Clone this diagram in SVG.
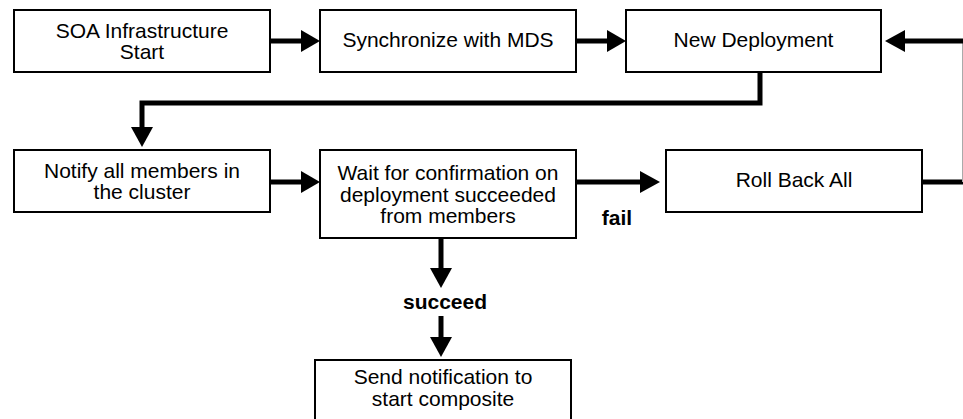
<svg xmlns="http://www.w3.org/2000/svg" width="963" height="419" viewBox="0 0 963 419">
<style>
.box{fill:#fff;stroke:#000;stroke-width:2}
.t{font-family:"Liberation Sans",Arial,sans-serif;font-size:21px;fill:#000;text-anchor:middle}
.lbl{font-family:"Liberation Sans",Arial,sans-serif;font-size:21px;font-weight:bold;fill:#000;text-anchor:middle}
.ln{fill:none;stroke:#000;stroke-width:5}
.hd{fill:#000;stroke:none}
</style>
<rect width="963" height="419" fill="#fff"/>
<g id="connectors">
<line class="ln" x1="270" y1="41" x2="303" y2="41"/>
<polygon class="hd" points="301,30 320,41 301,52"/>
<line class="ln" x1="576" y1="41" x2="609" y2="41"/>
<polygon class="hd" points="607,30 626,41 607,52"/>
<path class="ln" d="M760,72 V103 H142 V129"/>
<polygon class="hd" points="131,127 153,127 142,147"/>
<line class="ln" x1="270" y1="182" x2="303" y2="182"/>
<polygon class="hd" points="301,171 320,182 301,193"/>
<line class="ln" x1="576" y1="182" x2="642" y2="182"/>
<polygon class="hd" points="640,171 660,182 640,193"/>
<line class="ln" x1="922" y1="182" x2="963" y2="182"/>
<line x1="962.5" y1="40" x2="962.5" y2="182" stroke="#aaa" stroke-width="1"/>
<line class="ln" x1="963" y1="41" x2="903" y2="41"/>
<polygon class="hd" points="905,30 885,41 905,52"/>
<line class="ln" x1="441" y1="238" x2="441" y2="270"/>
<polygon class="hd" points="430,268 452,268 441,288"/>
<line class="ln" x1="441" y1="316" x2="441" y2="339"/>
<polygon class="hd" points="430,337 452,337 441,357"/>
<text class="lbl" x="617" y="225">fail</text>
<text class="lbl" x="445" y="309">succeed</text>
</g>
<g id="soa-start">
<rect class="box" x="14" y="10" width="256" height="62"/>
<text class="t" x="142" y="37.5">SOA Infrastructure</text>
<text class="t" x="142" y="58.5">Start</text>
</g>
<g id="sync-mds">
<rect class="box" x="320" y="10" width="256" height="62"/>
<text class="t" x="448" y="47">Synchronize with MDS</text>
</g>
<g id="new-deployment">
<rect class="box" x="626" y="10" width="255" height="62"/>
<text class="t" x="753.5" y="47">New Deployment</text>
</g>
<g id="notify-members">
<rect class="box" x="14" y="150" width="256" height="62"/>
<text class="t" x="142" y="177.5">Notify all members in</text>
<text class="t" x="142" y="198.5">the cluster</text>
</g>
<g id="wait-confirmation">
<rect class="box" x="320" y="150" width="256" height="88"/>
<text class="t" x="448" y="180">Wait for confirmation on</text>
<text class="t" x="448" y="201.5">deployment succeeded</text>
<text class="t" x="448" y="223">from members</text>
</g>
<g id="roll-back">
<rect class="box" x="666" y="150" width="256" height="62"/>
<text class="t" x="794" y="187">Roll Back All</text>
</g>
<g id="send-notification">
<rect class="box" x="315" y="360" width="256" height="70"/>
<text class="t" x="443" y="384">Send notification to</text>
<text class="t" x="443" y="406">start composite</text>
</g>
</svg>
